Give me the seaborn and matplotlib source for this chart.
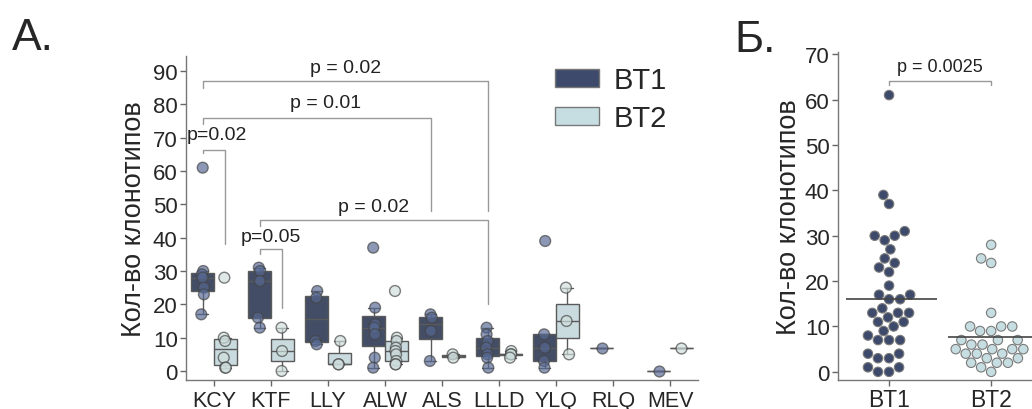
import numpy as np
import pandas as pd
import seaborn as sns
import matplotlib.pyplot as plt
from matplotlib.patches import Patch

sns.set_style('ticks')
plt.rcParams['font.family'] = ['Liberation Sans', 'DejaVu Sans']

# --- data ---
peptides = ['KCY', 'KTF', 'LLY', 'ALW', 'ALS', 'LLLD', 'YLQ', 'RLQ', 'MEV']
groups = ['BT1', 'BT2']

bt1_by_peptide = [
    [61, 30, 29, 28, 25, 23, 17],
    [31, 30, 27, 16, 13],
    [24, 22, 9, 8],
    [37, 19, 14, 13, 11, 4, 1],
    [17, 16, 12, 3],
    [13, 11, 9, 7, 5, 4, 1],
    [39, 11, 7, 3, 1],
    [7],
    [0],
]
bt2_by_peptide = [
    [28, 10, 9, 4, 1, 1],
    [13, 6, 0],
    [9, 2, 2],
    [24, 10, 9, 7, 6, 5, 3, 2, 2],
    [5, 4],
    [6, 5, 5, 4],
    [25, 15, 5],
    [],
    [7],
]

bt1_total = [61, 39, 37, 31, 30, 30, 29, 27, 25, 24, 23, 22, 19, 17, 17, 16, 16,
             14, 13, 13, 13, 12, 11, 11, 10, 9, 8, 7, 7, 7, 4, 4, 3, 3, 1, 1, 0, 0]
bt2_total = [28, 25, 24, 13, 10, 10, 10, 9, 9, 7, 7, 7, 6, 6, 5, 5, 5, 5,
             4, 4, 4, 3, 3, 2, 2, 2, 1, 0]

# long tables
rows = []
for pep, v1, v2 in zip(peptides, bt1_by_peptide, bt2_by_peptide):
    rows += [(pep, 'BT1', v) for v in v1]
    rows += [(pep, 'BT2', v) for v in v2]
df = pd.DataFrame(rows, columns=['peptide', 'group', 'count'])

df2 = pd.DataFrame({'group': ['BT1'] * len(bt1_total) + ['BT2'] * len(bt2_total),
                    'count': bt1_total + bt2_total})

box_colors = {'BT1': '#3d4a6b', 'BT2': '#c6dde1'}
pt_colors = {'BT1': '#566893', 'BT2': '#cededc'}
swarm_colors = {'BT1': '#3d4a6b', 'BT2': '#c6dde1'}
ylab = 'Кол-во клонотипов'

fig = plt.figure(figsize=(10.32, 4.10), dpi=100)
ax1 = fig.add_axes([186 / 1032, 1 - 381 / 410, 512 / 1032, 324 / 410])
ax2 = fig.add_axes([838 / 1032, 1 - 381 / 410, 194 / 1032, 328 / 410])

# --- A: box + strip ---
sns.boxplot(data=df, x='peptide', y='count', hue='group', order=peptides,
            hue_order=groups, palette=box_colors, width=0.8, gap=0,
            showfliers=False, linewidth=1, linecolor='#5a5a5a', ax=ax1, legend=False)
np.random.seed(3)
sns.stripplot(data=df, x='peptide', y='count', hue='group', order=peptides,
              hue_order=groups, palette=pt_colors, dodge=True, jitter=0.06,
              size=7.8, alpha=0.68, edgecolor='#444444', linewidth=1,
              ax=ax1, legend=False)

ax1.set_xlim(-0.49, 8.49)
ax1.set_ylim(-2.7, 94.5)
ax1.set_yticks(range(0, 91, 10))
ax1.set_xlabel('')
ax1.set_ylabel(ylab, fontsize=19.5, labelpad=4)
ax1.tick_params(axis='y', labelsize=16, length=4, width=1, color='#666666', pad=2)
ax1.tick_params(axis='x', labelsize=15.5, length=4, width=1, color='#666666', pad=3)
sns.despine(ax=ax1)
for s in ['left', 'bottom']:
    ax1.spines[s].set_color('#777777')
    ax1.spines[s].set_linewidth(1)

# significance brackets (x1, x2, top, left leg end, right leg end, text, tx, ty)
brackets = [
    (-0.2, 0.2, 66.4, 65.3, 38, 'p=0.02', 0.05, 71),
    (0.8, 1.2, 36.6, 35, 19, 'p=0.05', 1.0, 40.5),
    (0.8, 4.8, 45.4, 43.5, 20, 'p = 0.02', 2.8, 49.5),
    (-0.2, 3.8, 76, 74, 48, 'p = 0.01', 1.95, 80.5),
    (-0.2, 4.8, 87, 85, 48, 'p = 0.02', 2.3, 91.2),
]
for x1, x2, top, l_end, r_end, txt, tx, ty in brackets:
    ax1.plot([x1, x1, x2, x2], [l_end, top, top, r_end], color='#999999', lw=1)
    ax1.text(tx, ty, txt, ha='center', va='center', fontsize=14, color='#222222')

handles = [Patch(facecolor=box_colors[g], edgecolor='#777777', label=g) for g in groups]
ax1.legend(handles=handles, loc='upper left', bbox_to_anchor=(0.67, 1.05),
           frameon=False, fontsize=21, handlelength=1.5, handleheight=0.6,
           handletextpad=0.5, labelspacing=0.35)

# --- Б: swarm + mean ---
sns.swarmplot(data=df2, x='group', y='count', hue='group', order=groups,
              palette=swarm_colors, size=6.8, edgecolor='#7a7a7a', linewidth=0.8,
              ax=ax2, legend=False)
means = df2.groupby('group')['count'].mean().reindex(groups)
for i, m in enumerate(means):
    ax2.hlines(m, i - 0.42, i + 0.47, color='#444444', lw=1.2, zorder=5)

ax2.plot([0, 0, 1, 1], [63.3, 64, 64, 63.3], color='#999999', lw=1)
ax2.text(0.5, 67.3, 'p = 0.0025', ha='center', va='center', fontsize=13, color='#222222')

ax2.set_xlim(-0.5, 1.4)
ax2.set_ylim(-1.8, 70.5)
ax2.set_yticks(range(0, 71, 10))
ax2.set_xlabel('')
ax2.set_ylabel(ylab, fontsize=19.5, labelpad=2)
ax2.tick_params(axis='y', labelsize=16, length=4, width=1, color='#666666', pad=2)
ax2.tick_params(axis='x', labelsize=16.5, length=4, width=1, color='#666666', pad=1.5)
sns.despine(ax=ax2)
for s in ['left', 'bottom']:
    ax2.spines[s].set_color('#777777')
    ax2.spines[s].set_linewidth(1)

fig.text(0.012, 0.878, 'А.', fontsize=32, va='baseline')
fig.text(0.712, 0.873, 'Б.', fontsize=32, va='baseline')

fig.savefig('out.png', dpi=100)
